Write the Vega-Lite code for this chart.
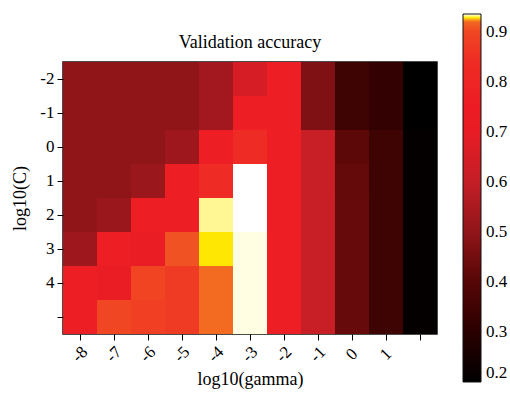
{
  "$schema": "https://vega.github.io/schema/vega-lite/v6.json",
  "width": 374,
  "height": 272,
  "autosize": {"type": "none"},
  "padding": {"left": 63, "top": 62, "right": 73, "bottom": 60},
  "background": "white",
  "title": {"text": "Validation accuracy", "font": "Liberation Serif", "fontSize": 18, "fontWeight": "normal", "color": "black", "offset": 10, "dy": 48},
  "data": {"values": [
    {"C": -2, "gamma": -8, "acc": 0.50}, {"C": -2, "gamma": -7, "acc": 0.50}, {"C": -2, "gamma": -6, "acc": 0.50}, {"C": -2, "gamma": -5, "acc": 0.50}, {"C": -2, "gamma": -4, "acc": 0.535}, {"C": -2, "gamma": -3, "acc": 0.65}, {"C": -2, "gamma": -2, "acc": 0.77}, {"C": -2, "gamma": -1, "acc": 0.47}, {"C": -2, "gamma": 0, "acc": 0.345}, {"C": -2, "gamma": 1, "acc": 0.32}, {"C": -2, "gamma": 2, "acc": 0.20},
    {"C": -1, "gamma": -8, "acc": 0.50}, {"C": -1, "gamma": -7, "acc": 0.50}, {"C": -1, "gamma": -6, "acc": 0.50}, {"C": -1, "gamma": -5, "acc": 0.50}, {"C": -1, "gamma": -4, "acc": 0.535}, {"C": -1, "gamma": -3, "acc": 0.77}, {"C": -1, "gamma": -2, "acc": 0.77}, {"C": -1, "gamma": -1, "acc": 0.47}, {"C": -1, "gamma": 0, "acc": 0.345}, {"C": -1, "gamma": 1, "acc": 0.32}, {"C": -1, "gamma": 2, "acc": 0.20},
    {"C": 0, "gamma": -8, "acc": 0.50}, {"C": 0, "gamma": -7, "acc": 0.50}, {"C": 0, "gamma": -6, "acc": 0.50}, {"C": 0, "gamma": -5, "acc": 0.525}, {"C": 0, "gamma": -4, "acc": 0.77}, {"C": 0, "gamma": -3, "acc": 0.84}, {"C": 0, "gamma": -2, "acc": 0.77}, {"C": 0, "gamma": -1, "acc": 0.61}, {"C": 0, "gamma": 0, "acc": 0.41}, {"C": 0, "gamma": 1, "acc": 0.345}, {"C": 0, "gamma": 2, "acc": 0.21},
    {"C": 1, "gamma": -8, "acc": 0.50}, {"C": 1, "gamma": -7, "acc": 0.50}, {"C": 1, "gamma": -6, "acc": 0.52}, {"C": 1, "gamma": -5, "acc": 0.77}, {"C": 1, "gamma": -4, "acc": 0.84}, {"C": 1, "gamma": -3, "acc": 0.936}, {"C": 1, "gamma": -2, "acc": 0.77}, {"C": 1, "gamma": -1, "acc": 0.61}, {"C": 1, "gamma": 0, "acc": 0.425}, {"C": 1, "gamma": 1, "acc": 0.345}, {"C": 1, "gamma": 2, "acc": 0.213},
    {"C": 2, "gamma": -8, "acc": 0.50}, {"C": 2, "gamma": -7, "acc": 0.52}, {"C": 2, "gamma": -6, "acc": 0.77}, {"C": 2, "gamma": -5, "acc": 0.77}, {"C": 2, "gamma": -4, "acc": 0.9325}, {"C": 2, "gamma": -3, "acc": 0.936}, {"C": 2, "gamma": -2, "acc": 0.77}, {"C": 2, "gamma": -1, "acc": 0.61}, {"C": 2, "gamma": 0, "acc": 0.43}, {"C": 2, "gamma": 1, "acc": 0.345}, {"C": 2, "gamma": 2, "acc": 0.213},
    {"C": 3, "gamma": -8, "acc": 0.525}, {"C": 3, "gamma": -7, "acc": 0.77}, {"C": 3, "gamma": -6, "acc": 0.72}, {"C": 3, "gamma": -5, "acc": 0.908}, {"C": 3, "gamma": -4, "acc": 0.9285}, {"C": 3, "gamma": -3, "acc": 0.935}, {"C": 3, "gamma": -2, "acc": 0.77}, {"C": 3, "gamma": -1, "acc": 0.61}, {"C": 3, "gamma": 0, "acc": 0.43}, {"C": 3, "gamma": 1, "acc": 0.345}, {"C": 3, "gamma": 2, "acc": 0.213},
    {"C": 4, "gamma": -8, "acc": 0.77}, {"C": 4, "gamma": -7, "acc": 0.72}, {"C": 4, "gamma": -6, "acc": 0.895}, {"C": 4, "gamma": -5, "acc": 0.875}, {"C": 4, "gamma": -4, "acc": 0.9205}, {"C": 4, "gamma": -3, "acc": 0.935}, {"C": 4, "gamma": -2, "acc": 0.77}, {"C": 4, "gamma": -1, "acc": 0.61}, {"C": 4, "gamma": 0, "acc": 0.43}, {"C": 4, "gamma": 1, "acc": 0.345}, {"C": 4, "gamma": 2, "acc": 0.213},
    {"C": 5, "gamma": -8, "acc": 0.77}, {"C": 5, "gamma": -7, "acc": 0.9}, {"C": 5, "gamma": -6, "acc": 0.885}, {"C": 5, "gamma": -5, "acc": 0.875}, {"C": 5, "gamma": -4, "acc": 0.9205}, {"C": 5, "gamma": -3, "acc": 0.935}, {"C": 5, "gamma": -2, "acc": 0.77}, {"C": 5, "gamma": -1, "acc": 0.61}, {"C": 5, "gamma": 0, "acc": 0.43}, {"C": 5, "gamma": 1, "acc": 0.345}, {"C": 5, "gamma": 2, "acc": 0.213}
  ]},
  "mark": {"type": "rect"},
  "encoding": {
    "x": {
      "field": "gamma", "type": "ordinal",
      "scale": {"paddingInner": 0, "paddingOuter": 0},
      "axis": {"title": "log10(gamma)", "labelAngle": -45, "labelAlign": "center", "labelBaseline": "middle", "labelPadding": 14, "titlePadding": 6, "labelExpr": "datum.label == '2' ? '' : datum.label"}
    },
    "y": {
      "field": "C", "type": "ordinal",
      "scale": {"paddingInner": 0, "paddingOuter": 0},
      "axis": {"title": "log10(C)", "labelPadding": 3, "titlePadding": 10, "labelExpr": "datum.label == '5' ? '' : datum.label"}
    },
    "color": {
      "field": "acc", "type": "quantitative",
      "scale": {
        "domain": [0.2, 0.3, 0.4, 0.5, 0.6, 0.7, 0.75, 0.84, 0.9, 0.92, 0.925, 0.929, 0.933, 0.936],
        "range": ["#000000", "#2a0000", "#560606", "#901519", "#c41e26", "#e81c24", "#ed1c24", "#ee2b24", "#f04623", "#f26522", "#f9a61a", "#fff200", "#fff8a8", "#ffffff"],
        "interpolate": "rgb"
      },
      "legend": {
        "title": null, "orient": "none", "legendX": 400, "legendY": -48, "padding": 0,
        "direction": "vertical", "gradientLength": 368, "gradientThickness": 18,
        "gradientStrokeColor": "#111", "gradientStrokeWidth": 1,
        "values": [0.2, 0.3, 0.4, 0.5, 0.6, 0.7, 0.8, 0.9],
        "labelFlush": false, "labelOverlap": false, "labelOffset": 5,
        "labelFont": "Liberation Serif", "labelFontSize": 17, "labelColor": "black", "format": ".1f",
        "encode": {"gradient": {"update": {"fill": {"gradient": "color", "start": [0, 1], "stop": [0, 0], "count": 400}}}}
      }
    }
  },
  "config": {
    "view": {"stroke": "#111", "strokeWidth": 1.5},
    "axis": {
      "domain": false, "grid": false,
      "labelFont": "Liberation Serif", "labelFontSize": 17, "labelColor": "black",
      "tickColor": "black", "tickSize": 6, "tickWidth": 1,
      "titleFont": "Liberation Serif", "titleFontSize": 18, "titleFontWeight": "normal", "titleColor": "black"
    }
  }
}
